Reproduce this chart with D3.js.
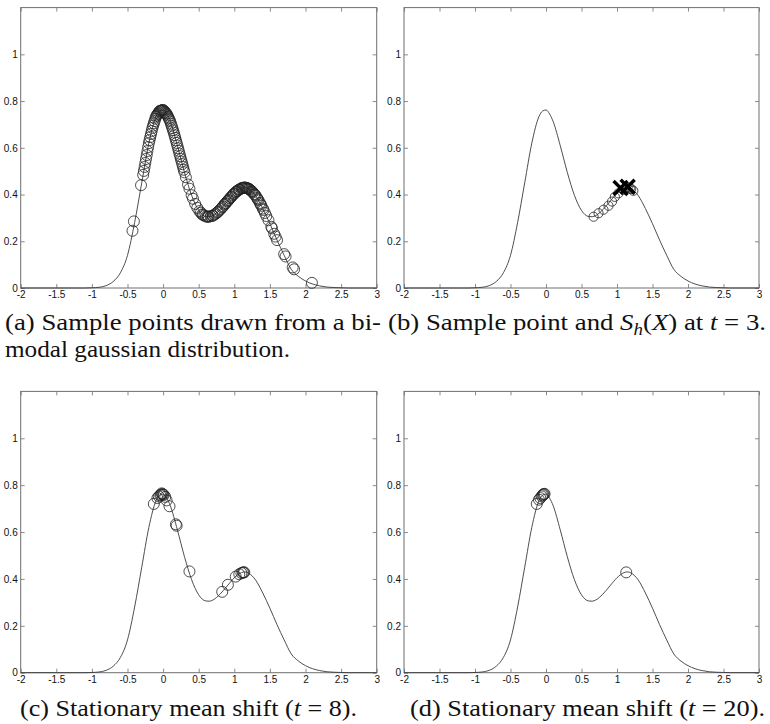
<!DOCTYPE html>
<html>
<head>
<meta charset="utf-8">
<script src="https://cdn.jsdelivr.net/npm/d3@7"></script>
<style>
  body { margin: 0; background: #fff; }
  svg { display: block; }
  .tick text { font-family: "Liberation Sans", Arial, sans-serif; font-size: 10px; fill: #111; }
  .cap { font-family: "Liberation Serif", serif; font-size: 24px; fill: #111; }
</style>
</head>
<body>
<svg width="770" height="724"></svg>
<script>
// density curve
const curveX = [-2, -1.2, -1.1, -1.0, -0.9, -0.8, -0.7, -0.6, -0.5, -0.4, -0.3, -0.2, -0.1, -0.05, 0, 0.05, 0.1, 0.2, 0.3, 0.4, 0.5, 0.6, 0.65, 0.7, 0.8, 0.9, 1.0, 1.1, 1.15, 1.2, 1.3, 1.4, 1.5, 1.6, 1.7, 1.8, 1.9, 2.0, 2.1, 2.2, 2.3, 2.4, 2.5, 2.6, 3];
const curveY = [0, 0, 0, 0.001, 0.003, 0.01, 0.028, 0.065, 0.14, 0.28, 0.45, 0.62, 0.733, 0.757, 0.762, 0.745, 0.713, 0.61, 0.495, 0.397, 0.332, 0.306, 0.305, 0.31, 0.335, 0.37, 0.405, 0.427, 0.43, 0.425, 0.395, 0.34, 0.275, 0.205, 0.14, 0.08, 0.05, 0.03, 0.017, 0.009, 0.004, 0.002, 0.001, 0, 0];

const xTicks = [-2, -1.5, -1, -0.5, 0, 0.5, 1, 1.5, 2, 2.5, 3];
const yTicks = [0, 0.2, 0.4, 0.6, 0.8, 1];

// (a) sample points
const aX = [-0.43, -0.41, -0.31, -0.28, -0.27, -0.26, -0.25, -0.24, -0.23, -0.22, -0.21, -0.2, -0.19, -0.18, -0.17, -0.16, -0.15, -0.14, -0.13, -0.12, -0.11, -0.1, -0.09, -0.08, -0.07, -0.06, -0.05, -0.04, -0.03, -0.02, -0.01, 0, 0.01, 0.02, 0.03, 0.04, 0.05, 0.06, 0.07, 0.08, 0.09, 0.1, 0.11, 0.12, 0.13, 0.14, 0.15, 0.16, 0.17, 0.18, 0.19, 0.2, 0.21, 0.22, 0.23, 0.24, 0.25, 0.26, 0.27, 0.28, 0.29, 0.3, 0.32, 0.35, 0.37, 0.4, 0.42, 0.45, 0.48,
  0.51, 0.53, 0.55, 0.56, 0.58, 0.6, 0.62, 0.63, 0.64, 0.67, 0.69, 0.7, 0.72, 0.74, 0.76, 0.77, 0.79, 0.81, 0.83, 0.84, 0.86, 0.87, 0.88, 0.9, 0.91, 0.92, 0.94, 0.95, 0.96, 0.98, 0.99, 1.0, 1.02, 1.03, 1.04, 1.06, 1.07, 1.08, 1.1, 1.11, 1.12, 1.13, 1.14, 1.15, 1.16, 1.17, 1.18, 1.19, 1.2, 1.21, 1.22, 1.24, 1.25, 1.26, 1.28, 1.29, 1.3, 1.32, 1.33, 1.34, 1.36, 1.37, 1.38, 1.4, 1.41, 1.43, 1.45,
  1.48, 1.52, 1.53, 1.56, 1.58, 1.6, 1.7, 1.72, 1.82, 1.84, 2.09];
const aY = [0.245, 0.285, 0.44, 0.484, 0.501, 0.518, 0.535, 0.552, 0.569, 0.586, 0.603, 0.62, 0.633, 0.646, 0.659, 0.672, 0.685, 0.695, 0.705, 0.714, 0.724, 0.733, 0.738, 0.743, 0.747, 0.752, 0.757, 0.758, 0.759, 0.76, 0.761, 0.762, 0.759, 0.755, 0.752, 0.748, 0.745, 0.739, 0.732, 0.726, 0.72, 0.713, 0.703, 0.694, 0.684, 0.675, 0.665, 0.654, 0.643, 0.632, 0.621, 0.61, 0.598, 0.587, 0.575, 0.564, 0.552, 0.541, 0.53, 0.518, 0.506, 0.495, 0.474, 0.443, 0.425, 0.397, 0.382, 0.36, 0.343,
  0.329, 0.322, 0.315, 0.313, 0.31, 0.306, 0.306, 0.305, 0.305, 0.307, 0.309, 0.31, 0.314, 0.318, 0.323, 0.326, 0.332, 0.338, 0.345, 0.349, 0.356, 0.36, 0.363, 0.37, 0.374, 0.377, 0.384, 0.388, 0.391, 0.398, 0.402, 0.405, 0.41, 0.413, 0.415, 0.42, 0.421, 0.423, 0.427, 0.428, 0.428, 0.429, 0.43, 0.43, 0.429, 0.428, 0.427, 0.426, 0.425, 0.423, 0.42, 0.415, 0.413, 0.409, 0.402, 0.399, 0.395, 0.385, 0.38, 0.375, 0.364, 0.358, 0.352, 0.34, 0.334, 0.321, 0.308,
  0.29, 0.262, 0.255, 0.232, 0.22, 0.205, 0.145, 0.135, 0.088, 0.08, 0.022];

// (b) points at t = 3 and the S_h(X) crosses
const bX = [0.67, 0.74, 0.81, 0.88, 0.93, 0.97, 1.02, 1.09, 1.12, 1.15, 1.18, 1.2, 1.23];
const bY = [0.305, 0.32, 0.335, 0.352, 0.37, 0.39, 0.405, 0.42, 0.428, 0.43, 0.426, 0.424, 0.416];
const crossX = [1.05, 1.15];
const crossY = [0.428, 0.433];

// (c) t = 8
const cX = [-0.13, -0.08, -0.06, -0.04, -0.03, -0.02, -0.01, 0, 0.01, 0.03, 0.05, 0.09, 0.18, 0.19, 0.37, 0.83, 0.91, 1.02, 1.07, 1.1, 1.12, 1.13, 1.14];
const cY = [0.72, 0.745, 0.752, 0.757, 0.76, 0.765, 0.762, 0.76, 0.758, 0.75, 0.735, 0.71, 0.633, 0.627, 0.432, 0.345, 0.375, 0.41, 0.42, 0.425, 0.427, 0.428, 0.428];

// (d) t = 20
const dX = [-0.13, -0.1, -0.08, -0.06, -0.05, -0.04, -0.03, -0.02, 1.13];
const dY = [0.72, 0.738, 0.745, 0.752, 0.757, 0.76, 0.762, 0.763, 0.428];

const panels = [
  { xs: aX, ys: aY, r: 5.5, left: 20.7, right: 376.7, top: 7.6, bottom: 288 },
  { xs: bX, ys: bY, r: 4.6, left: 404, right: 759, top: 7.6, bottom: 288, crosses: true },
  { xs: cX, ys: cY, r: 5.5, left: 20.7, right: 376.7, top: 391.4, bottom: 672.7 },
  { xs: dX, ys: dY, r: 5.5, left: 404, right: 759, top: 391.4, bottom: 672.7 }
];

const svg = d3.select("svg");
const boxColor = "#6f6f6f";

panels.forEach((p) => {
  const x = d3.scaleLinear().domain([-2, 3]).range([p.left, p.right]);
  const y = d3.scaleLinear().domain([0, 1.2]).range([p.bottom, p.top]);
  const g = svg.append("g");

  const fmt = (d) => String(d);

  // ticks on all four sides, pointing inward
  const axes = [
    [d3.axisBottom(x).tickValues(xTicks).tickFormat(fmt), `translate(0,${p.bottom})`],
    [d3.axisTop(x).tickValues(xTicks).tickFormat(""), `translate(0,${p.top})`],
    [d3.axisLeft(y).tickValues(yTicks).tickFormat(fmt), `translate(${p.left},0)`],
    [d3.axisRight(y).tickValues(yTicks).tickFormat(""), `translate(${p.right},0)`]
  ];
  axes.forEach(([ax, tr]) => {
    const a = g.append("g")
      .attr("transform", tr)
      .call(ax.tickSize(-4).tickSizeOuter(0).tickPadding(3));
    a.select(".domain").remove();
    a.selectAll(".tick line").attr("stroke", boxColor).attr("stroke-width", 0.8);
  });

  g.append("rect")
    .attr("x", p.left).attr("y", p.top)
    .attr("width", p.right - p.left).attr("height", p.bottom - p.top)
    .attr("fill", "none")
    .attr("stroke", boxColor)
    .attr("stroke-width", 1);

  const line = d3.line()
    .x((d) => x(d[0]))
    .y((d) => y(d[1]))
    .curve(d3.curveMonotoneX);

  g.append("path")
    .datum(d3.zip(curveX, curveY))
    .attr("d", line)
    .attr("fill", "none")
    .attr("stroke", "#3a3a3a")
    .attr("stroke-width", 0.9);

  g.append("g")
    .selectAll("circle")
    .data(d3.zip(p.xs, p.ys))
    .enter()
    .append("circle")
    .attr("cx", (d) => x(d[0]))
    .attr("cy", (d) => y(d[1]))
    .attr("r", p.r)
    .attr("fill", "none")
    .attr("stroke", "#222")
    .attr("stroke-width", 0.8);

  if (p.crosses) {
    const s = 7;
    g.append("g")
      .selectAll("path")
      .data(d3.zip(crossX, crossY))
      .enter()
      .append("path")
      .attr("d", (d) => {
        const cx = x(d[0]), cy = y(d[1]);
        return `M${cx - s},${cy - s}L${cx + s},${cy + s}M${cx - s},${cy + s}L${cx + s},${cy - s}`;
      })
      .attr("stroke", "#000")
      .attr("stroke-width", 3.4);
  }
});

// captions
function caption(xPos, yPos, parts, len) {
  const t = svg.append("text").attr("class", "cap").attr("x", xPos).attr("y", yPos);
  parts.forEach((pt) => {
    const s = t.append("tspan").text(pt.t);
    if (pt.i) s.attr("font-style", "italic");
    if (pt.sub) s.attr("font-size", 17).attr("dy", 5);
    if (pt.up) s.attr("dy", -5);
  });
  if (len) t.attr("textLength", len).attr("lengthAdjust", "spacingAndGlyphs");
  return t;
}

caption(5, 330, [{ t: "(a) Sample points drawn from a bi-" }], 376);
caption(5, 357, [{ t: "modal gaussian distribution." }], 285);
caption(388, 330, [
  { t: "(b) Sample point and " }, { t: "S", i: true }, { t: "h", i: true, sub: true },
  { t: "(", up: true }, { t: "X", i: true }, { t: ") at " }, { t: "t", i: true }, { t: " = 3." }
], 378);
caption(20, 716, [
  { t: "(c) Stationary mean shift (" }, { t: "t", i: true }, { t: " = 8)." }
], 337);
caption(410, 716, [
  { t: "(d) Stationary mean shift (" }, { t: "t", i: true }, { t: " = 20)." }
], 355);
</script>
</body>
</html>
